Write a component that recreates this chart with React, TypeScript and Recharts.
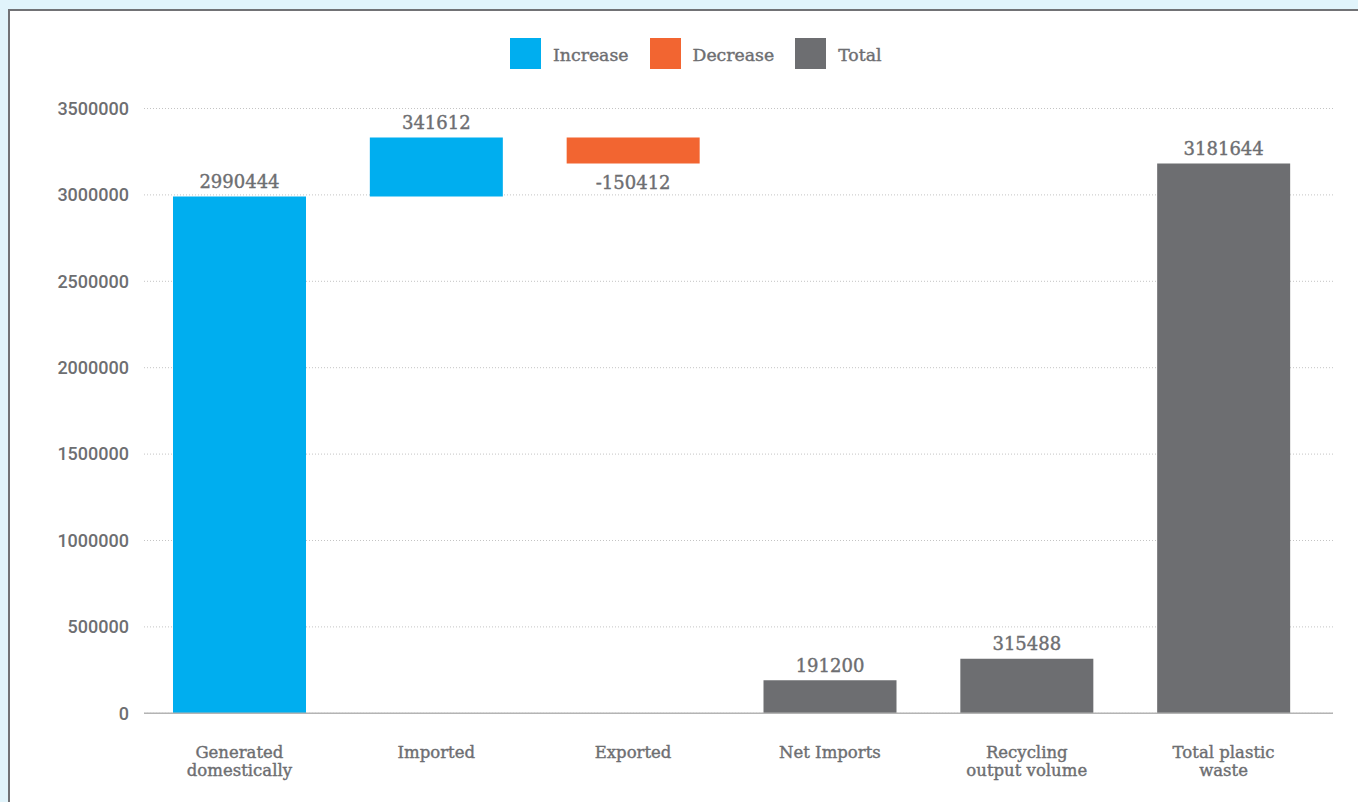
import React from 'react';
import { BarChart, Bar, XAxis, YAxis, CartesianGrid, Legend, LabelList } from 'recharts';

const categories = [
  'Generated domestically',
  'Imported',
  'Exported',
  'Net Imports',
  'Recycling output volume',
  'Total plastic waste',
];
const categoryLines = [
  ['Generated', 'domestically'],
  ['Imported'],
  ['Exported'],
  ['Net Imports'],
  ['Recycling', 'output volume'],
  ['Total plastic', 'waste'],
];
const values = [2990444, 341612, -150412, 191200, 315488, 3181644];
const kinds = ['increase', 'increase', 'decrease', 'total', 'total', 'total'];
const yTicks = [0, 500000, 1000000, 1500000, 2000000, 2500000, 3000000, 3500000];
const legendLabels = ['Increase', 'Decrease', 'Total'];

const COLORS: Record<string, string> = {
  increase: '#00AEEF',
  decrease: '#F26531',
  total: '#6D6E71',
};
const TEXT = '#6D6E71';
const SLAB = "'DejaVu Serif', serif";

let running = 0;
const data = categories.map((name, i) => {
  const v = values[i];
  const k = kinds[i];
  let base = 0;
  let inc: number | null = null;
  let dec: number | null = null;
  let tot: number | null = null;
  if (k === 'increase') {
    base = running;
    inc = v;
    running += v;
  } else if (k === 'decrease') {
    running += v;
    base = running;
    dec = -v;
  } else {
    tot = v;
  }
  return {
    name,
    base,
    inc,
    dec,
    tot,
    incLabel: inc !== null ? String(v) : undefined,
    decLabel: dec !== null ? String(v) : undefined,
    totLabel: tot !== null ? String(v) : undefined,
  };
});

const labelStyle = {
  fill: TEXT,
  fontFamily: SLAB,
  fontSize: 18,
  stroke: TEXT,
  strokeWidth: 0.4,
};

const TopLabel = (props: any) => {
  const { x, y, width, value } = props;
  if (value === undefined || value === null || value === '') return null;
  return (
    <text x={x + width / 2} y={y - 15} textAnchor="middle" dominantBaseline="central" {...labelStyle}>
      {value}
    </text>
  );
};

const BottomLabel = (props: any) => {
  const { x, y, width, height, value } = props;
  if (value === undefined || value === null || value === '') return null;
  return (
    <text
      x={x + width / 2}
      y={y + height + 19}
      textAnchor="middle"
      dominantBaseline="central"
      {...labelStyle}
    >
      {value}
    </text>
  );
};

const CategoryTick = (props: any) => {
  const { x, y, payload, index } = props;
  const lines = categoryLines[index] ?? [payload.value];
  return (
    <text
      x={x}
      y={y}
      textAnchor="middle"
      fill={TEXT}
      fontFamily={SLAB}
      fontSize={16.5}
      stroke={TEXT}
      strokeWidth={0.4}
    >
      {lines.map((l: string, j: number) => (
        <tspan key={j} x={x} y={y + 31 + j * 18} dominantBaseline="central">
          {l}
        </tspan>
      ))}
    </text>
  );
};

const LegendContent = () => (
  <div style={{ display: 'flex', alignItems: 'center', height: 31 }}>
    {legendLabels.map((label, i) => {
      const color = COLORS[['increase', 'decrease', 'total'][i]];
      return (
        <div key={label} style={{ display: 'flex', alignItems: 'center', marginRight: 21 }}>
          <div style={{ width: 31, height: 31, background: color }} />
          <span
            style={{
              marginLeft: 12,
              color: TEXT,
              fontFamily: SLAB,
              fontSize: 17.3,
              lineHeight: '31px',
              position: 'relative',
              top: 2,
              WebkitTextStroke: '0.4px ' + TEXT,
            }}
          >
            {label}
          </span>
        </div>
      );
    })}
  </div>
);

export default function App() {
  return (
    <div
      style={{
        position: 'fixed',
        left: 0,
        top: 0,
        width: 1358,
        height: 802,
        overflow: 'hidden',
        background: '#E1F4FB',
      }}
    >
      <div
        style={{
          position: 'absolute',
          left: 8,
          top: 9,
          width: 1420,
          height: 900,
          background: '#FFFFFF',
          border: '2px solid #717275',
          boxSizing: 'border-box',
        }}
      />
      <div style={{ position: 'absolute', left: 0, top: 0 }}>
        <BarChart
          width={1358}
          height={802}
          data={data}
          margin={{ top: 77.5, right: 25, bottom: 0, left: 0 }}
          barSize={133}
        >
          <Legend
            verticalAlign="top"
            content={<LegendContent />}
            wrapperStyle={{ top: 38, left: 510, width: 'auto', height: 31 }}
          />
          <CartesianGrid vertical={false} stroke="#C4C4C4" strokeDasharray="1 2" />
          <XAxis
            dataKey="name"
            tickLine={false}
            axisLine={{ stroke: '#B4B4B4', strokeWidth: 1.5 }}
            tick={<CategoryTick />}
            interval={0}
            padding={{ left: -3, right: 11 }}
            height={88.7}
          />
          <YAxis
            width={144}
            domain={[0, 3500000]}
            ticks={yTicks}
            axisLine={false}
            tickLine={false}
            tickSize={6}
            tickMargin={9}
            tick={{ fill: TEXT, fontFamily: 'Roboto', fontSize: 18, fontWeight: 500 }}
          />
          <Bar dataKey="base" stackId="a" fill="transparent" isAnimationActive={false} />
          <Bar dataKey="inc" stackId="a" fill={COLORS.increase} isAnimationActive={false}>
            <LabelList dataKey="incLabel" content={<TopLabel />} />
          </Bar>
          <Bar dataKey="dec" stackId="a" fill={COLORS.decrease} isAnimationActive={false}>
            <LabelList dataKey="decLabel" content={<BottomLabel />} />
          </Bar>
          <Bar dataKey="tot" stackId="a" fill={COLORS.total} isAnimationActive={false}>
            <LabelList dataKey="totLabel" content={<TopLabel />} />
          </Bar>
        </BarChart>
      </div>
    </div>
  );
}
